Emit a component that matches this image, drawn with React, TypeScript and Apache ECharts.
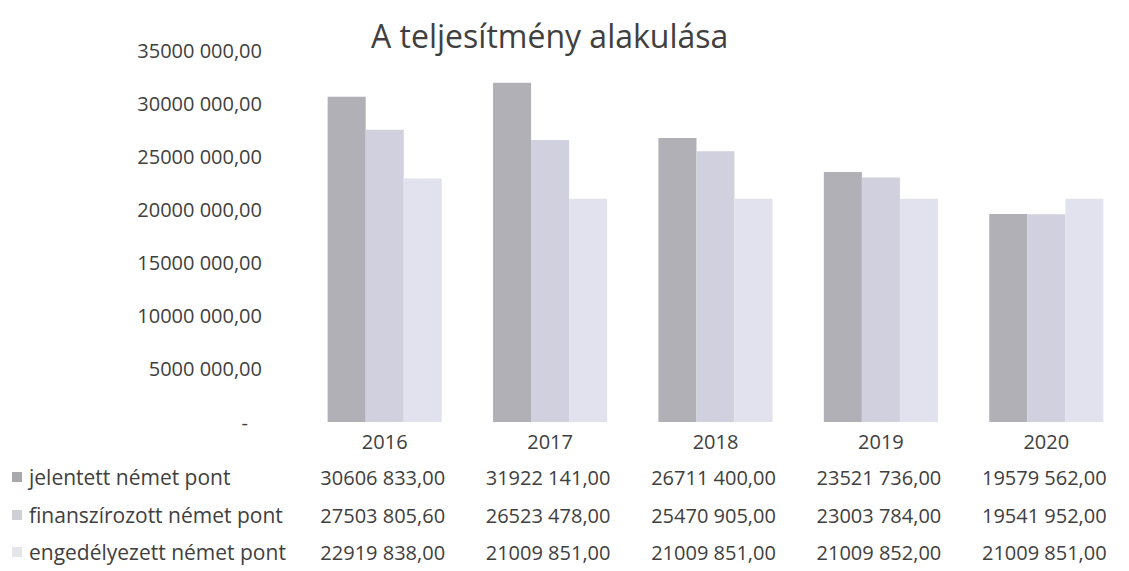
import React, { useEffect, useRef } from "react";
import * as echarts from "echarts";

const TITLE = "A teljesítmény alakulása";
const YEARS = ["2016", "2017", "2018", "2019", "2020"];
const SERIES_NAMES = ["jelentett német pont", "finanszírozott német pont", "engedélyezett német pont"];
const JELENTETT = [30606833.0, 31922141.0, 26711400.0, 23521736.0, 19579562.0];
const FINANSZIROZOTT = [27503805.6, 26523478.0, 25470905.0, 23003784.0, 19541952.0];
const ENGEDELYEZETT = [22919838.0, 21009851.0, 21009851.0, 21009852.0, 21009851.0];
const Y_MAX = 35000000;
const Y_STEP = 5000000;

const COLORS = ["#b0b0b6", "#d0d0de", "#e2e2ee"];
const MARKER_COLORS = ["#a9a9ad", "#cfcfd6", "#e6e6ea"];
const FONT = "'Open Sans', 'Noto Sans', sans-serif";
const TEXT_COLOR = "#404040";

function fmt(v: number): string {
  const whole = Math.floor(v + 1e-9);
  const dec = Math.round((v - whole) * 100);
  const th = Math.floor(whole / 1000);
  const rest = whole % 1000;
  const decStr = String(dec).padStart(2, "0");
  if (th === 0) return `${rest},${decStr}`;
  return `${th} ${String(rest).padStart(3, "0")},${decStr}`;
}

export default function App() {
  const ref = useRef<HTMLDivElement>(null);
  useEffect(() => {
    if (!ref.current) return;
    const chart = echarts.init(ref.current, undefined, { renderer: "svg" });
    const data = [JELENTETT, FINANSZIROZOTT, ENGEDELYEZETT];
    chart.setOption({
      animation: false,
      backgroundColor: "#ffffff",
      title: {
        text: TITLE,
        left: 366,
        top: 14,
        textStyle: { fontFamily: FONT, fontSize: 32, fontWeight: "normal", color: TEXT_COLOR },
      },
      grid: { left: 302, top: 50, width: 841, height: 372 },
      xAxis: {
        type: "category",
        data: YEARS,
        axisLine: { show: false },
        axisTick: { show: false },
        axisLabel: { margin: 9, fontFamily: FONT, fontSize: 20, color: TEXT_COLOR },
      },
      yAxis: {
        type: "value",
        min: 0,
        max: Y_MAX,
        interval: Y_STEP,
        splitLine: { show: false },
        axisLine: { show: false },
        axisTick: { show: false },
        axisLabel: {
          margin: 40,
          fontFamily: FONT,
          fontSize: 20,
          color: TEXT_COLOR,
          formatter: (v: number) => (v === 0 ? "{z|-}" : fmt(v)),
          rich: { z: { fontFamily: FONT, fontSize: 20, color: TEXT_COLOR, padding: [0, 14, 0, 0] } },
        },
      },
      series: SERIES_NAMES.map((name, i) => ({
        name,
        type: "bar",
        data: data[i],
        barGap: "0%",
        barCategoryGap: "31%",
        itemStyle: { color: COLORS[i] },
      })),
    });

    const rowsY = [477, 515, 552];
    const graphics: any[] = [];
    SERIES_NAMES.forEach((name, i) => {
      graphics.push({
        type: "rect",
        shape: { x: 12, y: rowsY[i] - 5, width: 10, height: 10 },
        style: { fill: MARKER_COLORS[i] },
      });
      graphics.push({
        type: "text",
        x: 29,
        y: rowsY[i],
        style: {
          text: name,
          font: `21px ${FONT}`,
          fill: TEXT_COLOR,
          textAlign: "left",
          textVerticalAlign: "middle",
        },
      });
      YEARS.forEach((yr, j) => {
        const px = chart.convertToPixel({ xAxisIndex: 0 }, yr) as number;
        graphics.push({
          type: "text",
          x: px - 2,
          y: rowsY[i],
          style: {
            text: fmt(data[i][j]),
            font: `20px ${FONT}`,
            fill: TEXT_COLOR,
            textAlign: "center",
            textVerticalAlign: "middle",
          },
        });
      });
    });
    chart.setOption({ graphic: graphics });
    return () => chart.dispose();
  }, []);
  return (
    <div style={{ position: "fixed", left: 0, top: 0, width: 1129, height: 571, background: "#fff" }}>
      <div ref={ref} style={{ width: 1129, height: 571 }} />
    </div>
  );
}
